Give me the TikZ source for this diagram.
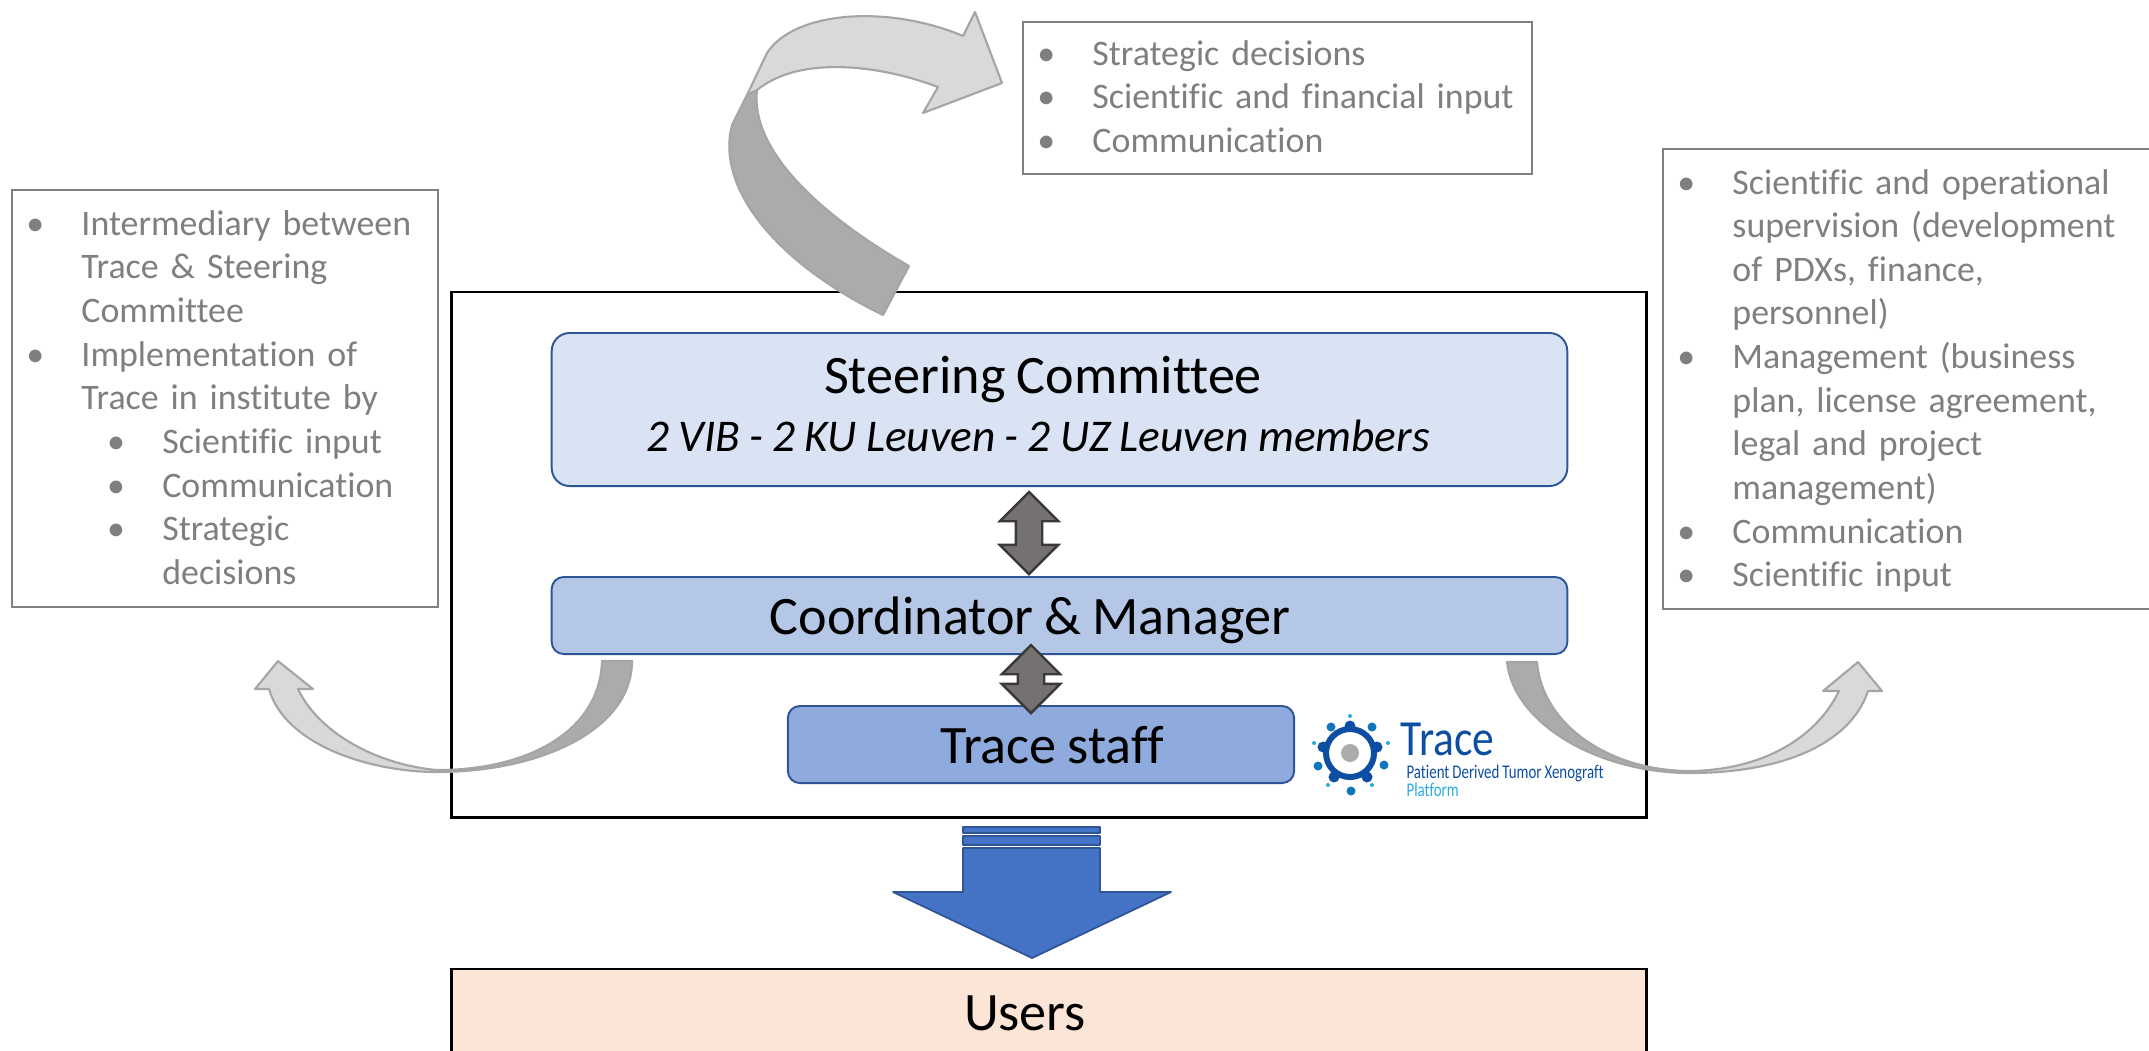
\documentclass[tikz,border=0pt]{standalone}
\usepackage{fontspec}
\setmainfont[Ligatures=NoCommon,WordSpace=0.9]{Carlito}
\usepackage{xcolor}
\usetikzlibrary{shapes,arrows}

\definecolor{boxedge}{HTML}{2F5597}
\definecolor{steerfill}{HTML}{DAE3F3}
\definecolor{coordfill}{HTML}{B4C7E7}
\definecolor{stafffill}{HTML}{8FAADC}
\definecolor{usersfill}{HTML}{FBE5D6}
\definecolor{notegrey}{HTML}{7F7F7F}
\definecolor{swoopedge}{HTML}{A5A5A5}
\definecolor{swooplight}{HTML}{D9D9D9}
\definecolor{swoopdark}{HTML}{ABABAB}
\definecolor{bothfill}{HTML}{767171}
\definecolor{bothedge}{HTML}{3B3838}
\definecolor{downfill}{HTML}{4472C4}
\definecolor{logodark}{HTML}{0B4EA2}
\definecolor{logomid}{HTML}{0F75BD}
\definecolor{logolight}{HTML}{29ABE2}

\newenvironment{notelist}{\begin{list}{\textbullet}{\setlength{\leftmargin}{16.8pt}\setlength{\labelwidth}{6.2pt}\setlength{\labelsep}{10.6pt}\setlength{\itemsep}{0pt}\setlength{\parsep}{0pt}\setlength{\topsep}{0pt}\setlength{\partopsep}{0pt}}}{\end{list}}
\newenvironment{sublist}{\begin{list}{\textbullet}{\setlength{\leftmargin}{23pt}\setlength{\labelwidth}{12.4pt}\setlength{\labelsep}{10.6pt}\setlength{\itemsep}{0pt}\setlength{\parsep}{0pt}\setlength{\topsep}{0pt}\setlength{\partopsep}{0pt}}}{\end{list}}

\tikzstyle{roundbox} = [rectangle, rounded corners=0.18cm, draw=boxedge, line width=0.55pt, inner sep=0pt]
\tikzstyle{biglabel} = [font=\fontsize{15.4}{18}\selectfont, inner sep=0pt]
\tikzstyle{notebox} = [rectangle, draw=notegrey, line width=0.5pt, anchor=north west, inner xsep=0.105cm, inner ysep=0pt, text=notegrey, font=\fontsize{10.2}{12.4}\selectfont]
\tikzstyle{swoop} = [draw=swoopedge, line width=0.6pt, line join=round]
\tikzstyle{bothway} = [double arrow, double arrow head extend=0.16cm, shape border rotate=90, fill=bothfill, draw=bothedge, line width=0.7pt, inner xsep=0.12cm, inner ysep=0pt]
\tikzstyle{downbar} = [fill=downfill, draw=boxedge, line width=0.5pt, line join=round]

\begin{document}
\begin{tikzpicture}[x=0.01cm, y=-0.01cm]
\clip (0,0) rectangle (2149,1050);

% notes
\node [notebox, minimum width=5.09cm, minimum height=1.52cm, text width=4.88cm] at (1022,21) (topnote) {%
\vspace*{-6.2pt}
\begin{notelist}
\item Strategic decisions
\item Scientific and financial input
\item Communication
\end{notelist}};
\node [notebox, minimum width=4.26cm, minimum height=4.17cm, text width=4.05cm] at (11,189) (leftnote) {%
\vspace*{-5.9pt}
\begin{notelist}
\item Intermediary between\newline Trace \& Steering\newline Committee
\item Implementation of\newline Trace in institute by
\begin{sublist}
\item Scientific input
\item Communication
\item Strategic\newline decisions
\end{sublist}
\end{notelist}};
\node [notebox, minimum width=5.2cm, minimum height=4.6cm, text width=4.99cm] at (1662,148) (rightnote) {%
\vspace*{-4.3pt}
\begin{notelist}
\item Scientific and operational\newline supervision (development\newline of PDXs, finance,\newline personnel)
\item Management (business\newline plan, license agreement,\newline legal and project\newline management)
\item Communication
\item Scientific input
\end{notelist}};

% frame and boxes
\node [rectangle, draw=black, line width=0.75pt, minimum width=11.94cm, minimum height=5.25cm, inner sep=0pt] at (1049,554.5) (frame) {};
\node [roundbox, fill=steerfill, minimum width=10.15cm, minimum height=1.53cm] at (1059.5,409.5) (steering) {};
\node [roundbox, fill=coordfill, rounded corners=0.12cm, minimum width=10.15cm, minimum height=0.77cm] at (1059.5,615.5) (coordinator) {};
\node [roundbox, fill=stafffill, rounded corners=0.12cm, minimum width=5.06cm, minimum height=0.77cm] at (1041,744.5) (staff) {};
\node [rectangle, draw=black, line width=0.75pt, fill=usersfill, minimum width=11.94cm, minimum height=1.2cm, inner sep=0pt] at (1049,1029) (users) {};

\node [biglabel] at (1043,379) (steertext) {Steering Committee};
\node [biglabel, font=\fontsize{12.9}{16}\selectfont\itshape] at (1038,436) (membertext) {2 VIB - 2 KU Leuven - 2 UZ Leuven members};
\node [biglabel] at (1030,620) (coordtext) {Coordinator \& Manager};
\node [biglabel] at (1052,745) (stafftext) {Trace staff};
\node [biglabel] at (1025,1013) (userstext) {Users};

% both way arrows
\node [bothway, minimum height=0.82cm] at (1029,533) (steerboth) {};
\node [bothway, minimum height=0.68cm] at (1031,679) (staffboth) {};

% arrow to users
\path [downbar] (963,827) rectangle (1100,833);
\path [downbar] (963,836) rectangle (1100,845);
\path [downbar] (963,848) -- (1100,848) -- (1100,892) -- (1171,892) -- (1032,958) -- (893,892) -- (963,892) -- cycle;

% top swoop
\path [swoop, fill=swooplight] (747,95) -- (767,53) .. controls (795,10) and (890,5) .. (963,36) -- (975,12) -- (1002,83) -- (923,113) -- (938,87) .. controls (880,65) and (800,55) .. (757,90) -- cycle;
\path [swoop, fill=swoopdark] (747,95) -- (732,125) .. controls (715,190) and (780,265) .. (883,315) -- (909,266) .. controls (820,215) and (750,150) .. (757,90) -- cycle;

% left swoop
\path [swoop, fill=swooplight] (437,772) .. controls (370,772) and (285,745) .. (269,689) -- (255,689) -- (278,661) -- (313,689) -- (298,689) .. controls (320,735) and (380,765) .. (437,770) -- cycle;
\path [swoop, fill=swoopdark] (602,661) -- (632,661) .. controls (632,730) and (540,772) .. (437,772) -- (437,770) .. controls (530,770) and (600,730) .. (602,661) -- cycle;

% right swoop
\path [swoop, fill=swooplight] (1690,773) .. controls (1780,773) and (1850,745) .. (1868,691) -- (1882,691) -- (1858,662) -- (1823,691) -- (1839,691) .. controls (1815,740) and (1760,770) .. (1690,771) -- cycle;
\path [swoop, fill=swoopdark] (1507,662) -- (1537,662) .. controls (1542,725) and (1610,771) .. (1690,771) -- (1690,773) .. controls (1600,773) and (1514,725) .. (1507,662) -- cycle;

% logo
\draw [logodark, line width=1.7pt] (1350,753) circle (24);
\fill [swoopdark] (1350,753) circle (9);
\fill [logodark] (1350,726) circle (5.5);
\fill [logodark] (1377,747) circle (5.5);
\fill [logodark] (1367,777) circle (5.5);
\fill [logodark] (1334,777) circle (5.5);
\fill [logodark] (1323,747) circle (5.5);
\fill [logomid] (1331,727) circle (4.5);
\fill [logomid] (1372,727) circle (4.5);
\fill [logomid] (1384,765) circle (4.5);
\fill [logomid] (1318,766) circle (4.5);
\fill [logomid] (1351,791) circle (4.5);
\fill [logolight] (1350,716) circle (2);
\fill [logolight] (1388,743) circle (2);
\fill [logolight] (1372,785) circle (2);
\fill [logolight] (1328,785) circle (2);
\fill [logolight] (1314,743) circle (2);
\node [anchor=west, inner sep=0pt, xscale=0.86, text=logodark, font=\fontsize{14.4}{17}\selectfont] at (1400,739) (logoname) {Trace};
\node [anchor=west, inner sep=0pt, xscale=0.77, text=logodark, font=\fontsize{5.5}{7}\selectfont] at (1406,773) (logoline) {Patient Derived Tumor Xenograft};
\node [anchor=west, inner sep=0pt, xscale=0.77, text=logolight, font=\fontsize{5.5}{7}\selectfont] at (1406,790) (logoplat) {Platform};
\end{tikzpicture}
\end{document}
